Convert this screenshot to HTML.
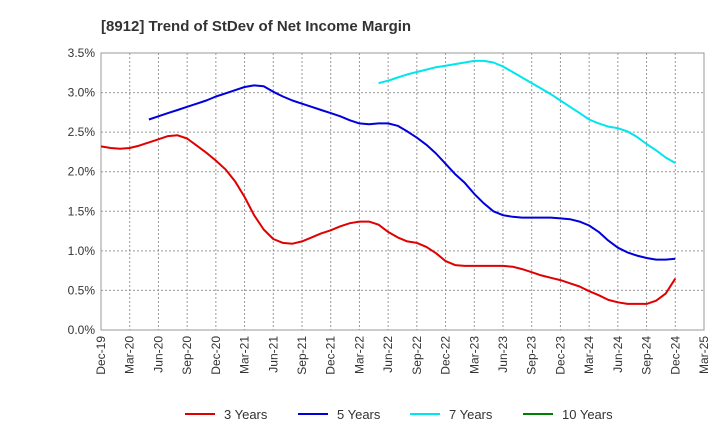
<!DOCTYPE html>
<html><head><meta charset="utf-8">
<style>
body{margin:0;background:#fff;font-family:"Liberation Sans",sans-serif;}
svg text{font-family:"Liberation Sans",sans-serif;}
</style></head>
<body>
<svg id="chart" width="720" height="440" xmlns="http://www.w3.org/2000/svg">
<text x="101" y="31" font-size="15" font-weight="bold" fill="#333">[8912]  Trend of StDev of Net Income Margin</text>
<g id="grid"></g>
<g id="axes"></g>
<g id="series"></g>
<g id="legend"></g>
</svg>
<script>
const xTickLabels=["Dec-19","Mar-20","Jun-20","Sep-20","Dec-20","Mar-21","Jun-21","Sep-21","Dec-21","Mar-22","Jun-22","Sep-22","Dec-22","Mar-23","Jun-23","Sep-23","Dec-23","Mar-24","Jun-24","Sep-24","Dec-24","Mar-25"];
const yTickValues=[0,0.5,1.0,1.5,2.0,2.5,3.0,3.5];
const seriesNames=["3 Years","5 Years","7 Years","10 Years"];
const seriesColors=["#e00000","#0000dd","#00e5ee","#008000"];
const seriesStart=[0,5,29,0];
const s3=[2.32,2.30,2.29,2.30,2.33,2.37,2.41,2.45,2.46,2.42,2.33,2.24,2.14,2.03,1.88,1.68,1.45,1.27,1.15,1.10,1.09,1.12,1.17,1.22,1.26,1.31,1.35,1.37,1.37,1.33,1.24,1.17,1.12,1.10,1.05,0.97,0.87,0.82,0.81,0.81,0.81,0.81,0.81,0.80,0.77,0.73,0.69,0.66,0.63,0.59,0.55,0.49,0.44,0.38,0.35,0.33,0.33,0.33,0.37,0.46,0.65];
const s5=[2.66,2.70,2.74,2.78,2.82,2.86,2.90,2.95,2.99,3.03,3.07,3.09,3.08,3.01,2.95,2.90,2.86,2.82,2.78,2.74,2.70,2.65,2.61,2.60,2.61,2.61,2.58,2.51,2.43,2.34,2.23,2.10,1.97,1.86,1.72,1.60,1.50,1.45,1.43,1.42,1.42,1.42,1.42,1.41,1.40,1.37,1.32,1.24,1.13,1.04,0.98,0.94,0.91,0.89,0.89,0.90];
const s7=[3.12,3.15,3.19,3.23,3.26,3.29,3.32,3.34,3.36,3.38,3.40,3.40,3.38,3.33,3.26,3.19,3.12,3.05,2.98,2.90,2.82,2.74,2.66,2.61,2.57,2.55,2.51,2.44,2.35,2.27,2.18,2.11];
const s10=[];
const allSeries=[s3,s5,s7,s10];

const NS="http://www.w3.org/2000/svg";
const X0=101,X1=704,Y0=330,Y1=53,YMAX=3.5,NMONTHS=63;
const xs=m=>X0+(X1-X0)*m/NMONTHS;
const ys=v=>Y0-(Y0-Y1)*v/YMAX;
function mk(tag,attrs,parent){const e=document.createElementNS(NS,tag);for(const k in attrs)e.setAttribute(k,attrs[k]);parent.appendChild(e);return e;}
const grid=document.getElementById('grid'),axes=document.getElementById('axes'),ser=document.getElementById('series'),leg=document.getElementById('legend');
mk('rect',{x:X0,y:Y1,width:X1-X0,height:Y0-Y1,fill:'#fff',stroke:'#999'},grid);
yTickValues.forEach(v=>{
  const y=ys(v);
  if(v>0&&v<YMAX){const l=mk('line',{x1:X0,x2:X1,y1:y,y2:y,stroke:'#999','stroke-dasharray':'2,2'},grid);
  
  }
  const t=mk('text',{x:X0-6,y:y+4,'text-anchor':'end','font-size':12,fill:'#333'},axes);
  t.textContent=v.toFixed(1)+'%';
  
  
});
xTickLabels.forEach((lab,i)=>{
  const x=xs(i*3);
  if(i>0&&i<xTickLabels.length-1){const l=mk('line',{x1:x,x2:x,y1:Y1,y2:Y0,stroke:'#999','stroke-dasharray':'2,2'},grid);
  
  }
  const t=mk('text',{x:0,y:0,'text-anchor':'end','font-size':12,fill:'#333',transform:`translate(${x+4},${Y0+6}) rotate(-90)`},axes);
  t.textContent=lab;
  
  
});
allSeries.forEach((d,si)=>{
  if(!d.length)return;
  const pts=d.map((v,i)=>xs(seriesStart[si]+i).toFixed(1)+','+ys(v).toFixed(1)).join(' ');
  const p=mk('polyline',{points:pts,fill:'none',stroke:seriesColors[si],'stroke-width':2,'stroke-linejoin':'round'},ser);
  
  
});
const legX=[185,298,410,523];
seriesNames.forEach((n,i)=>{
  const g=mk('g',{},leg);
  
  
  mk('line',{x1:legX[i],x2:legX[i]+30,y1:414,y2:414,stroke:seriesColors[i],'stroke-width':2},g);
  const t=mk('text',{x:legX[i]+39,y:419,'font-size':13,fill:'#333'},g);
  t.textContent=n;
});
</script>
</body></html>
